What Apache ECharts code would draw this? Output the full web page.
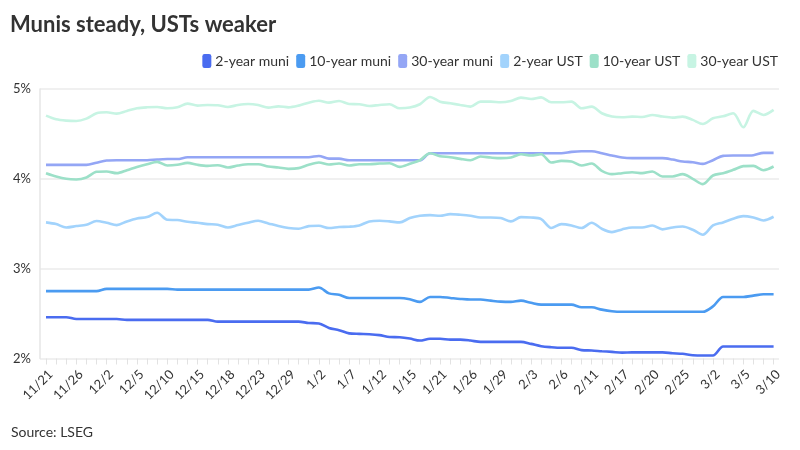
<!DOCTYPE html>
<html>
<head>
<meta charset="utf-8">
<script src="https://cdn.jsdelivr.net/npm/echarts@6/dist/echarts.min.js"></script>
<style>
html,body{margin:0;padding:0;background:#fff;}
#chart{width:800px;height:450px;}
</style>
</head>
<body>
<div id="chart"></div>
<script>
const dates = ['11/21','11/24','11/25','11/26','11/28','12/1','12/2','12/3','12/4','12/5','12/8','12/9','12/10','12/11','12/12','12/15','12/16','12/17','12/18','12/19','12/22','12/23','12/24','12/26','12/29','12/30','12/31','1/2','1/5','1/6','1/7','1/8','1/9','1/12','1/13','1/14','1/15','1/16','1/20','1/21','1/22','1/23','1/26','1/27','1/28','1/29','1/30','2/2','2/3','2/4','2/5','2/6','2/9','2/10','2/11','2/12','2/13','2/17','2/18','2/19','2/20','2/23','2/24','2/25','2/26','2/27','3/2','3/3','3/4','3/5','3/6','3/9','3/10'];

const muni2 = [2.46,2.46,2.46,2.44,2.44,2.44,2.44,2.44,2.43,2.43,2.43,2.43,2.43,2.43,2.43,2.43,2.43,2.41,2.41,2.41,2.41,2.41,2.41,2.41,2.41,2.41,2.395,2.39,2.34,2.315,2.28,2.274,2.27,2.26,2.24,2.237,2.222,2.20,2.22,2.22,2.21,2.21,2.20,2.185,2.185,2.185,2.185,2.185,2.163,2.137,2.126,2.12,2.12,2.093,2.089,2.081,2.074,2.065,2.068,2.068,2.068,2.068,2.059,2.052,2.037,2.033,2.033,2.133,2.133,2.133,2.133,2.133,2.133];

const muni10 = [2.75,2.75,2.75,2.75,2.75,2.75,2.775,2.775,2.775,2.775,2.775,2.775,2.775,2.767,2.767,2.767,2.767,2.767,2.767,2.767,2.767,2.767,2.767,2.767,2.767,2.767,2.767,2.79,2.725,2.71,2.674,2.674,2.674,2.674,2.674,2.674,2.66,2.63,2.685,2.685,2.674,2.663,2.656,2.656,2.644,2.633,2.63,2.644,2.62,2.60,2.60,2.60,2.60,2.57,2.57,2.544,2.526,2.52,2.52,2.52,2.52,2.52,2.52,2.52,2.52,2.52,2.58,2.685,2.685,2.685,2.70,2.715,2.715];

const muni30 = [4.155,4.155,4.155,4.155,4.155,4.18,4.204,4.207,4.207,4.207,4.207,4.215,4.22,4.22,4.24,4.24,4.24,4.24,4.24,4.24,4.24,4.24,4.24,4.24,4.24,4.24,4.24,4.255,4.225,4.225,4.207,4.207,4.207,4.207,4.207,4.207,4.207,4.207,4.285,4.285,4.285,4.285,4.285,4.285,4.285,4.285,4.285,4.285,4.285,4.285,4.285,4.285,4.30,4.307,4.307,4.285,4.26,4.237,4.23,4.23,4.23,4.23,4.215,4.193,4.185,4.167,4.207,4.256,4.259,4.259,4.263,4.289,4.289];

const ust2 = [3.515,3.496,3.459,3.474,3.489,3.53,3.511,3.485,3.526,3.559,3.574,3.622,3.544,3.541,3.522,3.511,3.496,3.489,3.459,3.485,3.511,3.533,3.504,3.474,3.452,3.444,3.474,3.478,3.452,3.463,3.467,3.481,3.526,3.533,3.526,3.515,3.563,3.589,3.596,3.589,3.607,3.60,3.589,3.57,3.57,3.563,3.526,3.574,3.57,3.552,3.452,3.496,3.481,3.452,3.511,3.444,3.407,3.437,3.459,3.459,3.481,3.437,3.459,3.47,3.433,3.378,3.481,3.515,3.556,3.585,3.57,3.537,3.578];

const ust10 = [4.063,4.026,4.0,3.993,4.015,4.078,4.081,4.063,4.096,4.133,4.163,4.189,4.148,4.156,4.178,4.156,4.144,4.152,4.126,4.148,4.163,4.163,4.137,4.126,4.111,4.119,4.156,4.181,4.159,4.17,4.148,4.163,4.163,4.17,4.174,4.133,4.167,4.207,4.285,4.252,4.241,4.222,4.207,4.248,4.237,4.23,4.237,4.274,4.259,4.274,4.181,4.20,4.193,4.148,4.17,4.089,4.052,4.063,4.074,4.063,4.081,4.026,4.026,4.052,4.0,3.941,4.037,4.063,4.10,4.141,4.144,4.096,4.137];

const ust30 = [4.704,4.663,4.648,4.644,4.67,4.73,4.741,4.726,4.756,4.785,4.796,4.80,4.785,4.796,4.837,4.815,4.822,4.819,4.80,4.822,4.833,4.822,4.793,4.807,4.796,4.815,4.848,4.87,4.848,4.867,4.833,4.83,4.811,4.822,4.83,4.785,4.793,4.83,4.911,4.859,4.841,4.822,4.804,4.859,4.859,4.852,4.867,4.904,4.889,4.907,4.852,4.852,4.859,4.785,4.804,4.73,4.693,4.685,4.693,4.689,4.711,4.693,4.681,4.693,4.656,4.611,4.674,4.696,4.73,4.574,4.756,4.711,4.767];

const seriesNames = ['2-year muni','10-year muni','30-year muni','2-year UST','10-year UST','30-year UST'];
const seriesData = [muni2, muni10, muni30, ust2, ust10, ust30];
const colors = ['#4a6cf0','#4b9bf1','#94a6f5','#a2d3fc','#9ce0c8','#c7f4e3'];

const FONT = 'Lato';
const chart = echarts.init(document.getElementById('chart'));
chart.setOption({
  animation: false,
  color: colors,
  textStyle: { fontFamily: FONT },
  title: {
    text: 'Munis steady, USTs weaker',
    left: 5, top: 9,
    textStyle: { fontFamily: FONT, fontSize: 22, fontWeight: 'bold', color: '#333' }
  },
  legend: {
    data: seriesNames,
    right: 17, top: 49,
    icon: 'roundRect',
    itemWidth: 9, itemHeight: 14, itemGap: 7,
    textStyle: { fontFamily: FONT, fontSize: 14, color: '#333', padding: [0,0,0,-1] }
  },
  graphic: [{
    type: 'text', left: 11, top: 425,
    style: { text: 'Source: LSEG', fill: '#333', font: '14px Lato' }
  }],
  grid: [
    { left: 40, right: 21, top: 89, bottom: 91.5 },
    { left: 46, right: 26.4, top: 89, bottom: 91.5 }
  ],
  xAxis: [
    { gridIndex: 0, type: 'value', min: 0, max: 1, axisLine: { show: false }, axisTick: { show: false }, axisLabel: { show: false }, splitLine: { show: false } },
    { gridIndex: 1, type: 'category', data: dates, boundaryGap: false,
      axisLine: { show: false },
      axisTick: { show: true, interval: 0, length: 6, lineStyle: { color: '#e2e2e2', width: 1 } },
      axisLabel: { interval: 2, rotate: 45, fontFamily: FONT, fontSize: 13, color: '#333', margin: 9, verticalAlign: 'top' },
      splitLine: { show: false } }
  ],
  yAxis: [
    { gridIndex: 0, type: 'value', min: 2, max: 5, interval: 1,
      axisLine: { show: true, lineStyle: { color: '#e6e6e6', width: 1.5 } },
      axisTick: { show: false },
      axisLabel: { formatter: '{value}%', fontFamily: FONT, fontSize: 13, color: '#333', margin: 9 },
      splitLine: { show: true, lineStyle: { color: '#ebebeb', width: 1.5 } } },
    { gridIndex: 1, type: 'value', min: 2, max: 5, show: false }
  ],
  series: seriesNames.map((n, i) => ({
    name: n, type: 'line', xAxisIndex: 1, yAxisIndex: 1,
    data: seriesData[i], showSymbol: false, smooth: 0.3,
    lineStyle: { width: 2.6, color: colors[i] },
    itemStyle: { color: colors[i] }
  }))
});
</script>
</body>
</html>
